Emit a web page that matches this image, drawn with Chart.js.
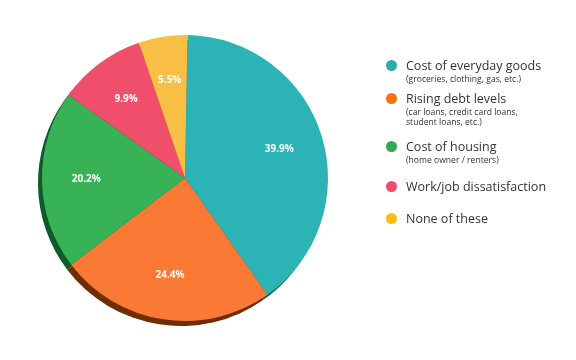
<!DOCTYPE html>
<html>
<head>
<meta charset="utf-8">
<script src="https://cdn.jsdelivr.net/npm/chart.js@4/dist/chart.umd.min.js"></script>
<style>
  html, body { margin: 0; padding: 0; background: #fff; }
  #wrap { position: relative; width: 576px; height: 360px; }
  #c { position: absolute; left: 0; top: 0; }
  #legend { position: absolute; left: 0; top: 0; width: 576px; height: 360px; pointer-events: none;
            font-family: "Open Sans", "Lato", sans-serif; color: #333; }
  .item { position: absolute; left: 386px; }
  .dot { position: absolute; left: 0; width: 11px; height: 11px; border-radius: 50%; }
  .main { position: absolute; left: 20px; white-space: nowrap; font-size: 12.5px; line-height: 14px; }
  .sub { position: absolute; left: 20px; white-space: nowrap; font-size: 8.6px; line-height: 10px; }
</style>
</head>
<body>
<div id="wrap">
  <canvas id="c" width="576" height="360"></canvas>
  <div id="legend"></div>
</div>
<script>
const categories = ["Cost of everyday goods", "Rising debt levels", "Cost of housing", "Work/job dissatisfaction", "None of these"];
const subLabels = [["(groceries, clothing, gas, etc.)"], ["(car loans, credit card loans,", "student loans, etc.)"], ["(home owner / renters)"], [], []];
const values = [39.9, 24.4, 20.2, 9.9, 5.5];
const sliceColors = ["#2bb3b5", "#fa7935", "#38b257", "#ef4f6a", "#f9bf45"];
const shadowColors = ["#176466", "#6e2e00", "#0e5a2a", "#6a1f2f", "#7a5a10"];
const legendColors = ["#2aabad", "#ff7010", "#34a853", "#ef4d6b", "#ffbb10"];
const legendTops = [66, 99, 147, 187, 219];

const shadowPlugin = {
  id: "pieShadow",
  beforeDatasetsDraw(chart) {
    const ctx = chart.ctx;
    const meta = chart.getDatasetMeta(0);
    meta.data.forEach((arc, i) => {
      const p = arc.getProps(["x", "y", "startAngle", "endAngle", "outerRadius"], true);
      ctx.save();
      ctx.translate(-4, 5);
      ctx.beginPath();
      ctx.moveTo(p.x, p.y);
      ctx.arc(p.x, p.y, p.outerRadius, p.startAngle, p.endAngle);
      ctx.closePath();
      ctx.fillStyle = shadowColors[i];
      ctx.fill();
      ctx.restore();
    });
  }
};

const labelPlugin = {
  id: "sliceLabels",
  afterDatasetsDraw(chart) {
    const ctx = chart.ctx;
    const meta = chart.getDatasetMeta(0);
    ctx.save();
    ctx.fillStyle = "#ffffff";
    ctx.font = "bold 10px 'Open Sans', sans-serif";
    ctx.textAlign = "center";
    ctx.textBaseline = "middle";
    meta.data.forEach((arc, i) => {
      const p = arc.getProps(["x", "y", "startAngle", "endAngle", "outerRadius"], true);
      const mid = (p.startAngle + p.endAngle) / 2;
      const r = p.outerRadius * 0.69;
      ctx.fillText(values[i].toFixed(1) + "%", p.x + Math.cos(mid) * r, p.y + Math.sin(mid) * r);
    });
    ctx.restore();
  }
};

new Chart(document.getElementById("c"), {
  type: "pie",
  data: {
    labels: categories,
    datasets: [{ data: values, backgroundColor: sliceColors, borderWidth: 0 }]
  },
  options: {
    responsive: false,
    animation: false,
    rotation: 1,
    layout: { padding: { left: 42, right: 248, top: 35, bottom: 39 } },
    plugins: { legend: { display: false }, tooltip: { enabled: false } }
  },
  plugins: [shadowPlugin, labelPlugin]
});

const legend = document.getElementById("legend");
categories.forEach((name, i) => {
  const item = document.createElement("div");
  item.className = "item";
  item.style.top = (legendTops[i] - 7) + "px";
  let html = '<div class="dot" style="top:1px;background:' + legendColors[i] + '"></div>';
  html += '<div class="main" style="top:0">' + name + '</div>';
  subLabels[i].forEach((s, j) => {
    html += '<div class="sub" style="top:' + (15 + j * 10) + 'px">' + s + '</div>';
  });
  item.innerHTML = html;
  legend.appendChild(item);
});
</script>
</body>
</html>
